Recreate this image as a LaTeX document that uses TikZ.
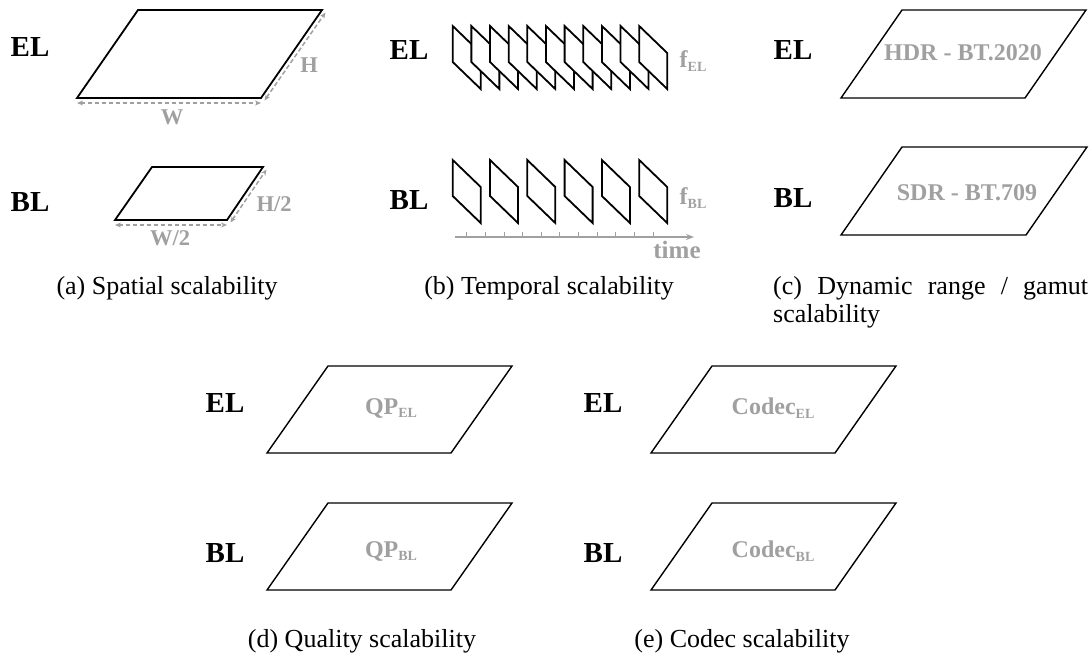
\documentclass[tikz,border=0pt]{standalone}
\usepackage{fontspec}
\setmainfont{Liberation Serif}
\usetikzlibrary{arrows.meta,calc}
\definecolor{lgray}{RGB}{160,160,160}
% small lowered label used as a subscript
\newcommand{\lsub}[1]{\raisebox{-0.35ex}{\fontsize{14}{14}\selectfont #1}}
\begin{document}
\begin{tikzpicture}[x=1pt,y=-1pt,
  layer/.style={font=\fontsize{29}{32}\selectfont\bfseries,inner sep=0pt},
  tag/.style={text=lgray,font=\fontsize{24}{26}\selectfont\bfseries,inner sep=0pt},
  smalltag/.style={text=lgray,font=\fontsize{22.5}{25}\selectfont\bfseries,inner sep=0pt},
  captext/.style={font=\fontsize{26}{28}\selectfont,inner sep=0pt},
  plane/.style={draw,line width=1.4pt,fill=white},
  thickplane/.style={draw,line width=1.8pt,fill=white},
  frm/.style={draw,line width=1.8pt,fill=white},
  dim/.style={lgray,line width=1.5pt,dash pattern=on 4.5pt off 2.5pt,
    {Stealth[length=6pt,width=5pt]}-{Stealth[length=6pt,width=5pt]}},
]
\useasboundingbox (0,0) rectangle (1092,657);

% ---------- (a) spatial ----------
\node[layer] (aEL) at (30,47) {EL};
\node[layer] (aBL) at (30,202) {BL};
\draw[thickplane] (138,10) coordinate (aE1) -- (322,10) coordinate (aE2)
  -- (261,98) coordinate (aE3) -- (77,98) coordinate (aE4) -- cycle;
\draw[dim] ([yshift=-5pt]aE4) -- ([yshift=-5pt]aE3);
\draw[dim] ([shift={(3.5,2.5)}]aE3) -- ([shift={(3.5,2.5)}]aE2);
\node[smalltag] (aW) at (172,117) {W};
\node[smalltag] (aH) at (309,65) {H};

\draw[thickplane] (152,167) coordinate (aB1) -- (263,167) coordinate (aB2)
  -- (227,220) coordinate (aB3) -- (115,220) coordinate (aB4) -- cycle;
\draw[dim] ([yshift=-5pt]aB4) -- ([yshift=-5pt]aB3);
\draw[dim] ([shift={(3.5,2.5)}]aB3) -- ([shift={(3.5,2.5)}]aB2);
\node[smalltag] (aW2) at (170,238) {W/2};
\node[smalltag] (aH2) at (274,204) {H/2};

\node[captext,anchor=base] (capa) at (167,294) {(a) Spatial scalability};

% ---------- (b) temporal ----------
\node[layer] (bEL) at (409,50) {EL};
\node[layer] (bBL) at (409,200) {BL};
\foreach \i in {0,...,10}
  \draw[frm] ({452.7+18.65*\i},26) -- ++(28,27) -- ++(0,36) -- ++(-28,-27) -- cycle;
\foreach \i in {0,2,...,10}
  \draw[frm] ({452.7+18.65*\i},160) -- ++(28,27) -- ++(0,36) -- ++(-28,-27) -- cycle;
\node[tag] (fEL) at (693,61) {f\lsub{EL}};
\node[tag] (fBL) at (693,198) {f\lsub{BL}};
\coordinate (t0) at (455,237);
\coordinate (t1) at (694,237);
\draw[lgray,line width=1.3pt,-{Stealth[length=8pt,width=6pt]}] (t0) -- (t1);
\foreach \i in {0,...,10}
  \draw[lgray,line width=1pt] ({466.7+18.65*\i},237) -- ++(0,-5.5);
\node[tag,font=\fontsize{25}{27}\selectfont\bfseries] (time) at (677,250) {time};

\node[captext,anchor=base] (capb) at (549,294) {(b) Temporal scalability};

% ---------- (c) dynamic range / gamut ----------
\node[layer] (cEL) at (793,50) {EL};
\node[layer] (cBL) at (793,198) {BL};
\draw[plane] (902,10) -- (1086,10) -- (1025,98) -- (841,98) -- cycle;
\node[tag] (hdr) at (963,53) {HDR - BT.2020};
\draw[plane] (902,147) -- (1087,147) -- (1026,235) -- (841,235) -- cycle;
\node[tag] (sdr) at (967,193) {SDR - BT.709};

\node[captext,anchor=base west,text width=315pt,align=justify] (capc) at (773,294)
  {(c) Dynamic range / gamut \mbox{scalability}};

% ---------- (d) quality ----------
\node[layer] (dEL) at (225,403) {EL};
\node[layer] (dBL) at (225,553) {BL};
\draw[plane] (328,366) -- (512,366) -- (451,453) -- (267,453) -- cycle;
\node[tag] (qpel) at (391,408) {QP\lsub{EL}};
\draw[plane] (328,503) -- (512,503) -- (451,590) -- (267,590) -- cycle;
\node[tag] (qpbl) at (391,551) {QP\lsub{BL}};

\node[captext,anchor=base] (capd) at (362,647) {(d) Quality scalability};

% ---------- (e) codec ----------
\node[layer] (eEL) at (603,403) {EL};
\node[layer] (eBL) at (603,553) {BL};
\draw[plane] (712,366) -- (896,366) -- (835,453) -- (651,453) -- cycle;
\node[tag] (cel) at (773,408) {Codec\lsub{EL}};
\draw[plane] (712,503) -- (896,503) -- (835,590) -- (651,590) -- cycle;
\node[tag] (cbl) at (773,551) {Codec\lsub{BL}};

\node[captext,anchor=base] (cape) at (742,647) {(e) Codec scalability};
\end{tikzpicture}
\end{document}
